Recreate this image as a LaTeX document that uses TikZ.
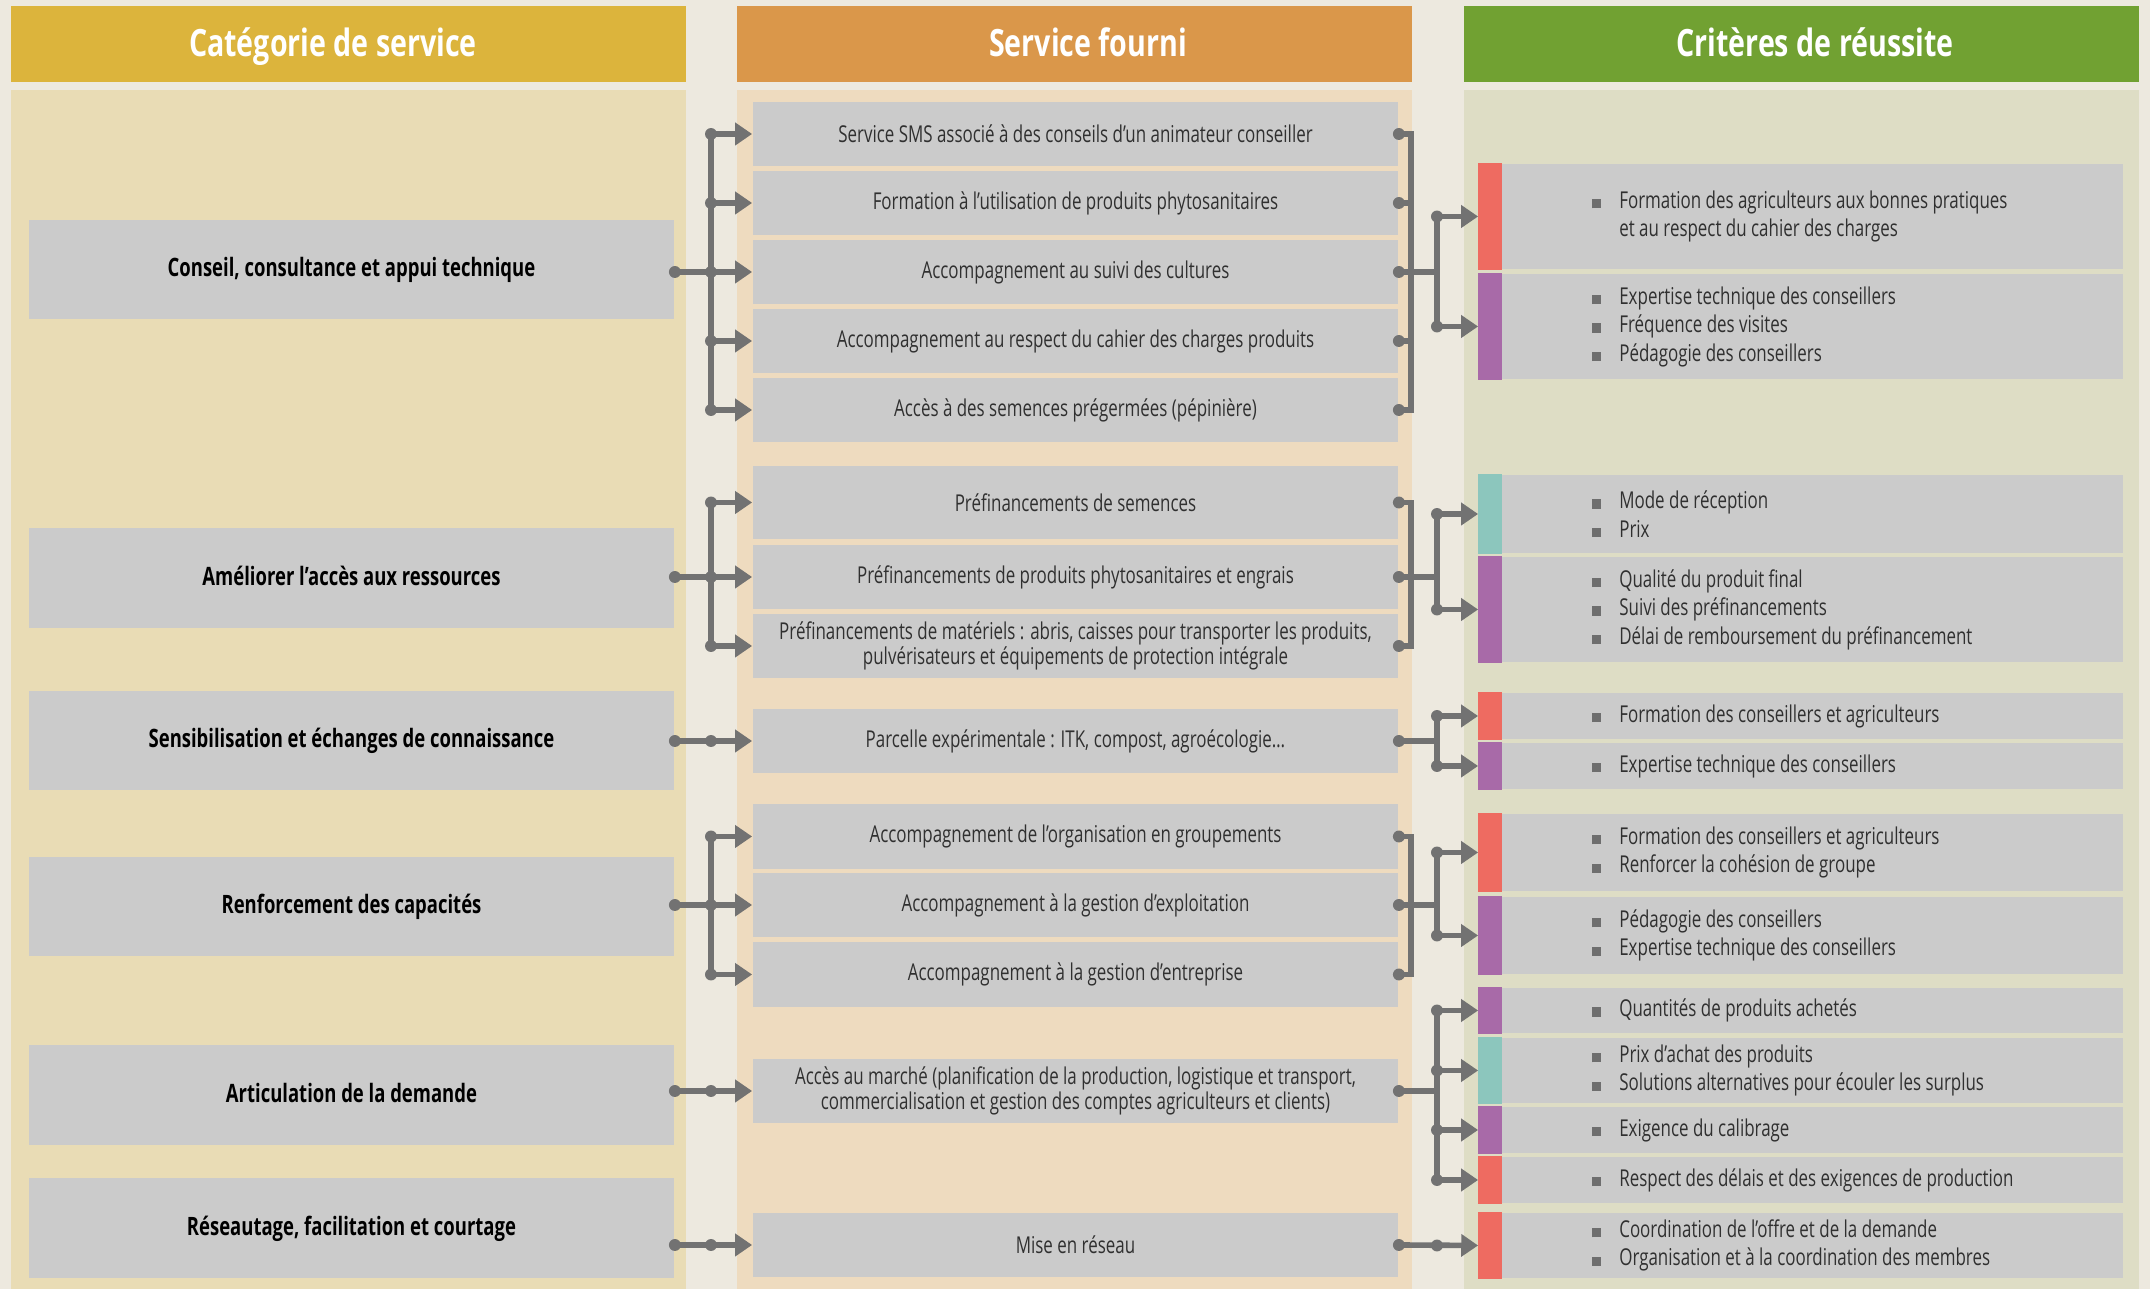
\documentclass[tikz,border=0pt]{standalone}
\usepackage{fontspec}
\setmainfont{Open Sans}[FakeStretch=0.73]
\newfontfamily\headfont{Open Sans}[FakeStretch=0.76]
\usetikzlibrary{arrows.meta}

\definecolor{pagebg}{HTML}{EDE9DF}
\definecolor{hdgold}{HTML}{DCB43C}
\definecolor{hdorange}{HTML}{DA974A}
\definecolor{hdgreen}{HTML}{71A132}
\definecolor{panelgold}{HTML}{E9DCB5}
\definecolor{panelorange}{HTML}{EEDBBF}
\definecolor{panelgreen}{HTML}{DEDDC5}
\definecolor{boxgray}{HTML}{CBCBCB}
\definecolor{conngray}{HTML}{727272}
\definecolor{bodytext}{HTML}{303030}
\definecolor{barred}{HTML}{EE6B61}
\definecolor{barpurple}{HTML}{A86AA8}
\definecolor{barteal}{HTML}{8CC6BD}
\definecolor{bulletgray}{HTML}{6E6E6E}

% small square bullet used in the criteria boxes
\newcommand\critbullet{\textcolor{bulletgray}{\rule{2.6pt}{2.6pt}}\hspace{5.2pt}}
\newcommand\critindent{\hspace*{7.8pt}}
% junction dot on a connector
\newcommand\junction[1]{\fill[conngray] (#1) circle[radius=1.7pt];}

\begin{document}
\begin{tikzpicture}[x=0.01cm,y=-0.01cm,
  head/.style={minimum width=6.75cm,minimum height=0.76cm,inner sep=0},
  headtext/.style={anchor=base,inner sep=0,text=white,
    font=\headfont\bfseries\fontsize{10.7}{12}\selectfont},
  catbox/.style={fill=boxgray,minimum width=6.45cm,minimum height=0.99cm,inner sep=0,
    text height=5.4pt,text depth=1.2pt,
    text=black,font=\bfseries\fontsize{7.2}{8.5}\selectfont},
  svcbox/.style={fill=boxgray,minimum width=6.45cm,minimum height=0.64cm,inner sep=0,
    align=center,text=bodytext,font=\fontsize{6.6}{7.1}\selectfont},
  critbox/.style={fill=boxgray,minimum width=6.44cm,inner sep=0},
  crittext/.style={anchor=west,align=left,inner sep=0,text=bodytext,
    font=\fontsize{6.6}{8.1}\selectfont},
  conn/.style={draw=conngray,line width=1.6pt},
  arr/.style={conn,-{Triangle[length=4.8pt,width=6.2pt]}},
]
% page and column backgrounds
\fill[pagebg] (0,0) rectangle (2150,1289);
\useasboundingbox (0,0) rectangle (2150,1289);
\fill[panelgold] (11,90) rectangle (686,1289);
\fill[panelorange] (737,90) rectangle (1412,1289);
\fill[panelgreen] (1464,90) rectangle (2139,1289);

% column headings
\node[head,fill=hdgold] (h1) at (348.5,44) {};
\node[head,fill=hdorange] (h2) at (1074.5,44) {};
\node[head,fill=hdgreen] (h3) at (1801.5,44) {};
\node[headtext] (h1t) at (333,57) {Catégorie de service};
\node[headtext] (h2t) at (1088,57) {Service fourni};
\node[headtext] (h3t) at (1815,57) {Critères de réussite};

% service categories
\node[catbox] (cat1) at (351.5,269.5) {Conseil, consultance et appui technique};
\node[catbox] (cat2) at (351.5,578) {Améliorer l’accès aux ressources};
\node[catbox] (cat3) at (351.5,740.5) {Sensibilisation et échanges de connaissance};
\node[catbox] (cat4) at (351.5,906.5) {Renforcement des capacités};
\node[catbox] (cat5) at (351.5,1095) {Articulation de la demande};
\node[catbox] (cat6) at (351.5,1228) {Réseautage, facilitation et courtage};

% services provided
\node[svcbox] (s1) at (1075.5,134) {Service SMS associé à des conseils d’un animateur conseiller};
\node[svcbox] (s2) at (1075.5,203) {Formation à l’utilisation de produits phytosanitaires};
\node[svcbox] (s3) at (1075.5,272) {Accompagnement au suivi des cultures};
\node[svcbox] (s4) at (1075.5,341) {Accompagnement au respect du cahier des charges produits};
\node[svcbox] (s5) at (1075.5,410) {Accès à des semences prégermées (pépinière)};
\node[svcbox,minimum height=0.73cm] (s6) at (1075.5,502.5) {Préfinancements de semences};
\node[svcbox] (s7) at (1075.5,577) {Préfinancements de produits phytosanitaires et engrais};
\node[svcbox] (s8) at (1075.5,646) {Préfinancements de matériels : abris, caisses pour transporter les produits,\\pulvérisateurs et équipements de protection intégrale};
\node[svcbox] (s9) at (1075.5,741) {Parcelle expérimentale : ITK, compost, agroécologie…};
\node[svcbox] (s10) at (1075.5,836.5) {Accompagnement de l’organisation en groupements};
\node[svcbox] (s11) at (1075.5,905) {Accompagnement à la gestion d’exploitation};
\node[svcbox] (s12) at (1075.5,974.5) {Accompagnement à la gestion d’entreprise};
\node[svcbox] (s13) at (1075.5,1091) {Accès au marché (planification de la production, logistique et transport,\\commercialisation et gestion des comptes agriculteurs et clients)};
\node[svcbox] (s14) at (1075.5,1245) {Mise en réseau};

% success criteria boxes
\node[critbox,minimum height=1.05cm] (k1) at (1801,216.5) {};
\node[critbox,minimum height=1.05cm] (k2) at (1801,326.5) {};
\node[critbox,minimum height=0.78cm] (k3) at (1801,514) {};
\node[critbox,minimum height=1.05cm] (k4) at (1801,609.5) {};
\node[critbox,minimum height=0.46cm] (k5) at (1801,716) {};
\node[critbox,minimum height=0.46cm] (k6) at (1801,766) {};
\node[critbox,minimum height=0.77cm] (k7) at (1801,852.5) {};
\node[critbox,minimum height=0.77cm] (k8) at (1801,935.5) {};
\node[critbox,minimum height=0.45cm] (k9) at (1801,1010.5) {};
\node[critbox,minimum height=0.65cm] (k10) at (1801,1070.5) {};
\node[critbox,minimum height=0.46cm] (k11) at (1801,1130) {};
\node[critbox,minimum height=0.46cm] (k12) at (1801,1180) {};
\node[critbox,minimum height=0.65cm] (k13) at (1801,1245.5) {};

% coloured flags on the criteria boxes
\foreach \k/\c in {k1/barred,k2/barpurple,k3/barteal,k4/barpurple,k5/barred,k6/barpurple,
  k7/barred,k8/barpurple,k9/barpurple,k10/barteal,k11/barpurple,k12/barred,k13/barred}
  \fill[\c] (\k.north west) rectangle ([xshift=0.24cm]\k.south west);

% criteria texts
\node[crittext] (k1t) at ([xshift=1.13cm]k1.west) {\critbullet Formation des agriculteurs aux bonnes pratiques\\\critindent et au respect du cahier des charges};
\node[crittext] (k2t) at ([xshift=1.13cm]k2.west) {\critbullet Expertise technique des conseillers\\\critbullet Fréquence des visites\\\critbullet Pédagogie des conseillers};
\node[crittext] (k3t) at ([xshift=1.13cm]k3.west) {\critbullet Mode de réception\\\critbullet Prix};
\node[crittext] (k4t) at ([xshift=1.13cm]k4.west) {\critbullet Qualité du produit final\\\critbullet Suivi des préfinancements\\\critbullet Délai de remboursement du préfinancement};
\node[crittext] (k5t) at ([xshift=1.13cm]k5.west) {\critbullet Formation des conseillers et agriculteurs};
\node[crittext] (k6t) at ([xshift=1.13cm]k6.west) {\critbullet Expertise technique des conseillers};
\node[crittext] (k7t) at ([xshift=1.13cm]k7.west) {\critbullet Formation des conseillers et agriculteurs\\\critbullet Renforcer la cohésion de groupe};
\node[crittext] (k8t) at ([xshift=1.13cm]k8.west) {\critbullet Pédagogie des conseillers\\\critbullet Expertise technique des conseillers};
\node[crittext] (k9t) at ([xshift=1.13cm]k9.west) {\critbullet Quantités de produits achetés};
\node[crittext] (k10t) at ([xshift=1.13cm]k10.west) {\critbullet Prix d'achat des produits\\\critbullet Solutions alternatives pour écouler les surplus};
\node[crittext] (k11t) at ([xshift=1.13cm]k11.west) {\critbullet Exigence du calibrage};
\node[crittext] (k12t) at ([xshift=1.13cm]k12.west) {\critbullet Respect des délais et des exigences de production};
\node[crittext] (k13t) at ([xshift=1.13cm]k13.west) {\critbullet Coordination de l’offre et de la demande\\\critbullet Organisation et à la coordination des membres};

% bus lines of the connectors
\coordinate (busL) at (711,0);
\coordinate (busA) at (1411,0);
\coordinate (busB) at (1437,0);

% ---- categories to services ----
% category feeding several services
\foreach \c/\m/\f/\l/\all in {cat1/s3/s1/s5/{s1,s2,s3,s4,s5},cat2/s7/s6/s8/{s6,s7,s8},cat4/s11/s10/s12/{s10,s11,s12}}{
  \draw[conn] (\c.east |- \m.west) -- (busL |- \m.west);
  \draw[conn,line cap=rect] (busL |- \f.west) -- (busL |- \l.west);
  \junction{\c.east |- \m.west}
  \foreach \s in \all {
    \draw[arr] (busL |- \s.west) -- (\s.west);
    \junction{busL |- \s.west}
  }
}
% category feeding a single service
\foreach \c/\s in {cat3/s9,cat5/s13,cat6/s14}{
  \draw[arr] (\c.east |- \s.west) -- (\s.west);
  \junction{\c.east |- \s.west}
  \junction{busL |- \s.west}
}

% ---- services to criteria ----
\foreach \m/\f/\l/\all/\kf/\kl/\kall in {
  s3/s1/s5/{s1,s2,s3,s4,s5}/k1/k2/{k1,k2},
  s7/s6/s8/{s6,s7,s8}/k3/k4/{k3,k4},
  s11/s10/s12/{s10,s11,s12}/k7/k8/{k7,k8}}{
  \foreach \s in \all {
    \draw[conn] (\s.east) -- (busA |- \s.east);
    \junction{\s.east}
  }
  \draw[conn,line cap=rect] (busA |- \f.east) -- (busA |- \l.east);
  \draw[conn] (busA |- \m.east) -- (busB |- \m.east);
  \draw[conn,line cap=rect] (busB |- \kf.west) -- (busB |- \kl.west);
  \foreach \k in \kall {
    \draw[arr] (busB |- \k.west) -- (\k.west);
    \junction{busB |- \k.west}
  }
}
\foreach \s/\kf/\kl/\kall in {s9/k5/k6/{k5,k6},s13/k9/k12/{k9,k10,k11,k12}}{
  \draw[conn] (\s.east) -- (busB |- \s.east);
  \junction{\s.east}
  \draw[conn,line cap=rect] (busB |- \kf.west) -- (busB |- \kl.west);
  \foreach \k in \kall {
    \draw[arr] (busB |- \k.west) -- (\k.west);
    \junction{busB |- \k.west}
  }
}
\draw[arr] (s14.east) -- (k13.west);
\junction{s14.east}
\junction{busB |- k13.west}
\end{tikzpicture}
\end{document}
